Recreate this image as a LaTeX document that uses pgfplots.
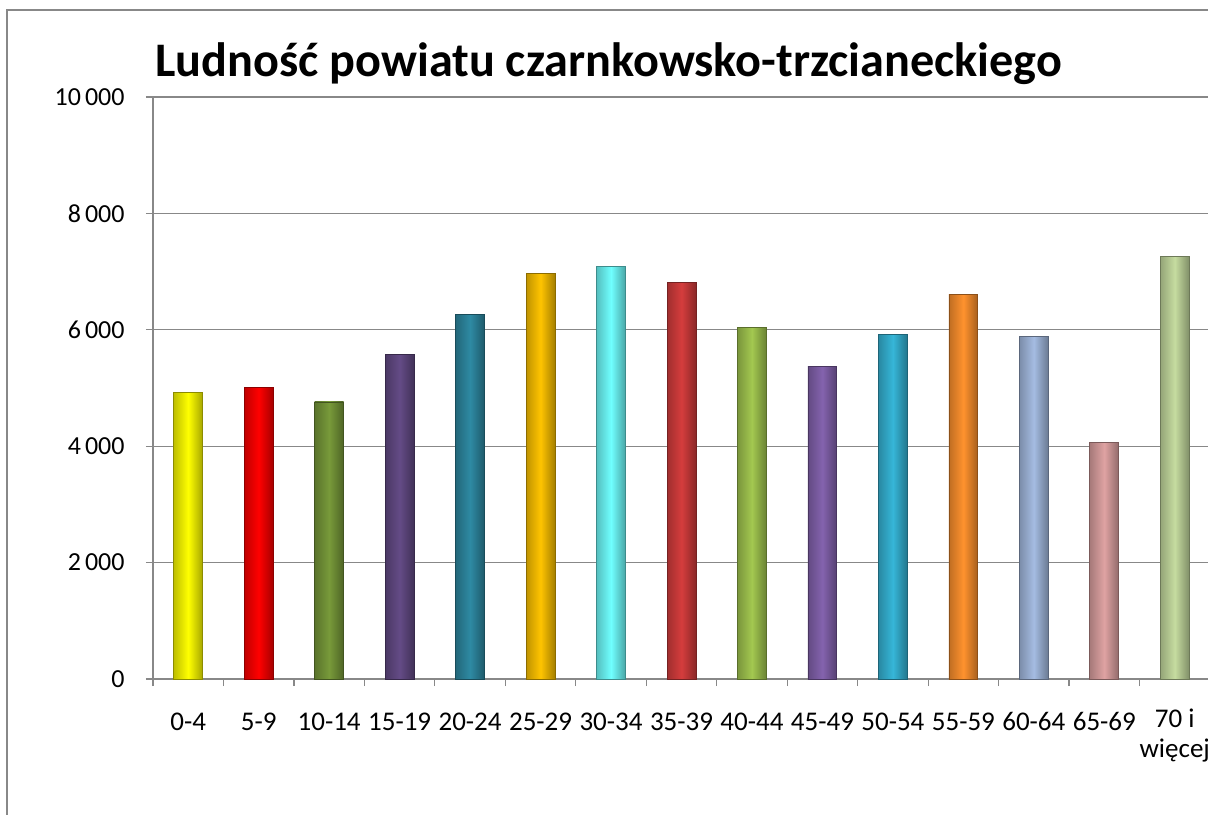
\documentclass[border=0pt]{standalone}
\usepackage{pgfplots}
\pgfplotsset{compat=1.18}
\usepackage{fontspec}
\setmainfont{Carlito}
\definecolor{gridgray}{HTML}{888888}
\definecolor{c1}{HTML}{FFFF00}
\definecolor{c2}{HTML}{FF0000}
\definecolor{c3}{HTML}{789A3A}
\definecolor{c4}{HTML}{644B86}
\definecolor{c5}{HTML}{2E8AA3}
\definecolor{c6}{HTML}{FFC400}
\definecolor{c7}{HTML}{70FFFF}
\definecolor{c8}{HTML}{D53D3D}
\definecolor{c9}{HTML}{A3C850}
\definecolor{c10}{HTML}{8463AE}
\definecolor{c11}{HTML}{36B6D8}
\definecolor{c12}{HTML}{FF922E}
\definecolor{c13}{HTML}{A5BCE2}
\definecolor{c14}{HTML}{DFA3A3}
\definecolor{c15}{HTML}{C6DCA0}
\newcommand{\abar}[3]{\addplot[ybar, bar width=0.41, bar shift=0pt, draw=#1!55!black, line width=0.4pt, left color=#1!75!black, right color=#1!65!black, middle color=#1] coordinates {(#2,#3)};}
\begin{document}
\begin{tikzpicture}
\useasboundingbox (0,0) rectangle (604pt,407pt);
\clip (0,0) rectangle (604pt,407pt);
\draw[gridgray, line width=1pt] (3.5pt,-20pt) -- (3.5pt,402pt) -- (640pt,402pt);
\node[anchor=base west, inner sep=0pt, font=\fontsize{24.1}{29}\selectfont\bfseries] at (77.5pt,368.5pt) {Ludność powiatu czarnkowsko-trzcianeckiego};
\begin{axis}[
  at={(76.5pt,67.5pt)}, anchor=south west,
  scale only axis, width=528.5pt, height=291pt,
  xmin=-0.5, xmax=14.5, ymin=0, ymax=10000,
  axis x line*=bottom, axis y line*=left,
  axis line style={draw=gridgray, line width=0.6pt, -},
  ytick={0,2000,4000,6000,8000,10000},
  ymajorgrids, grid style={draw=gridgray, line width=0.6pt},
  xtick={0,...,14},
  xticklabels={0-4,5-9,10-14,15-19,20-24,25-29,30-34,35-39,40-44,45-49,50-54,55-59,60-64,65-69,{70 i\\więcej}},
  minor xtick={-0.5,0.5,...,14.5},
  major x tick style={draw=none},
  tick style={draw=gridgray, line width=0.6pt},
  tick align=outside,
  major tick length=3.5pt, minor tick length=3.5pt,
  xticklabel style={font=\fontsize{13.5}{15}\selectfont},
  yticklabel style={font=\fontsize{13}{16}\selectfont},
  /pgf/number format/assume math mode=true,
  /pgf/number format/1000 sep={\hspace{2pt}},
  scaled y ticks=false,
  yticklabel style={anchor=east, inner sep=0pt, xshift=-10.5pt},
  xticklabel style={anchor=north, inner sep=0pt, yshift=-11.5pt, align=center, execute at begin node={\strut}},
  clip=false,
]
\abar{c1}{0}{4930}
\abar{c2}{1}{5010}
\abar{c3}{2}{4760}
\abar{c4}{3}{5580}
\abar{c5}{4}{6270}
\abar{c6}{5}{6970}
\abar{c7}{6}{7090}
\abar{c8}{7}{6820}
\abar{c9}{8}{6040}
\abar{c10}{9}{5370}
\abar{c11}{10}{5920}
\abar{c12}{11}{6600}
\abar{c13}{12}{5890}
\abar{c14}{13}{4070}
\abar{c15}{14}{7260}
\end{axis}
\end{tikzpicture}
\end{document}
